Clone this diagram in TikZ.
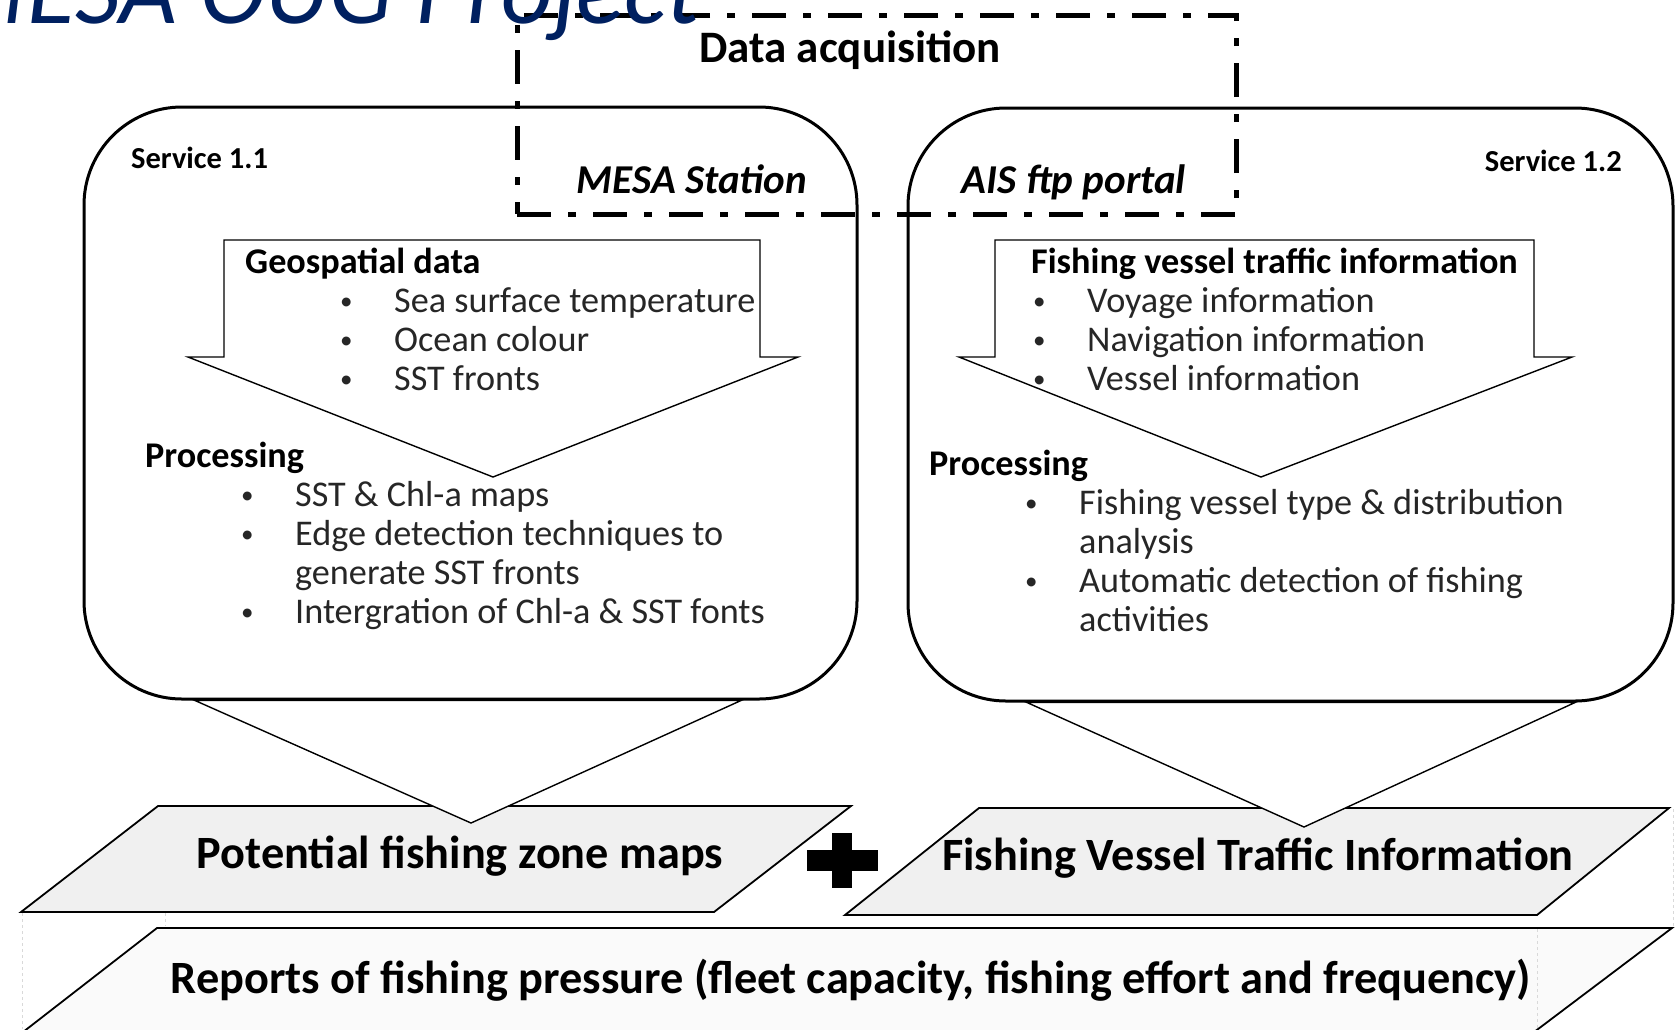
\documentclass[tikz,border=0pt]{standalone}
\usepackage{fontspec}
\setmainfont{Carlito}
\usepackage{tikz}
\usetikzlibrary{calc,positioning,backgrounds}
\definecolor{MesaBlue}{HTML}{002060}
\definecolor{ProductGray}{HTML}{F0F0F0}
\definecolor{ReportGray}{HTML}{FAFAFA}
\newlength\bulletwd
\setlength\bulletwd{54pt}
\newcommand\bitem[2]{\hspace*{#1}\makebox[\bulletwd][l]{\raisebox{3pt}{\fontsize{25}{25}\selectfont\textbullet}}#2}
\newcommand\bcont[2]{\hspace*{\dimexpr#1+\bulletwd\relax}#2}

\begin{document}
\begin{tikzpicture}[
        x=1pt, y=-1pt,
        service/.style={draw, line width=3pt, rounded corners=98pt, inner sep=0pt},
        blockarrow/.style={draw, line width=1.4pt, fill=white, line join=miter},
        funnel/.style={draw, line width=1.4pt, fill=white},
        product/.style={draw, line width=1.8pt, fill=ProductGray},
        acqbox/.style={draw, line width=5pt, dash pattern=on 34pt off 17pt on 8pt off 17pt, inner sep=0pt},
        hiddenedge/.style={gray!30, dashed, line width=0.8pt},
        bodytext/.style={font=\fontsize{36.2}{39}\selectfont, align=left, anchor=base west, inner sep=0pt, text=black!85},
        servicetag/.style={font=\bfseries\fontsize{30.5}{33}\selectfont, inner sep=0pt},
        sourcetext/.style={font=\bfseries\itshape\fontsize{41}{44}\selectfont, anchor=base, inner sep=0pt},
        producttext/.style={font=\bfseries\fontsize{46.3}{50}\selectfont, anchor=base, inner sep=0pt}
    ]
        \useasboundingbox (0,0) rectangle (1675,1029);
        \clip (0,0) rectangle (1675,1029);

        % Services
        \node[service, minimum width=773pt, minimum height=592pt] (box1) at (470.5,403) {};
        \node[service, minimum width=765pt, minimum height=593pt] (box2) at (1290.5,404.5) {};
        \node[servicetag, anchor=base west] (svc1) at (131,168) {Service 1.1};
        \node[servicetag, anchor=base east] (svc2) at (1622,171) {Service 1.2};

        % Products and funnels
        \begin{scope}[on background layer]
            \draw[product] (158,806) -- (851,806) -- (714,912) -- (21,912) -- cycle;
            \draw[product] (979,808) -- (1669,808) -- (1537,915) -- (845,915) -- cycle;
            \draw[product, fill=ReportGray] (157,928) -- (1672,928) -- (1497,1060) -- (-13,1060) -- cycle;
            \coordinate (tip1) at (471,823);
            \coordinate (tip2) at (1304,827);
            \draw[funnel] ($(box1.south)+(-275.5,0)$) -- ($(box1.south)+(270.5,0)$) -- (tip1) -- cycle;
            \draw[funnel] ($(box2.south)+(-263.5,0)$) -- ($(box2.south)+(284.5,0)$) -- (tip2) -- cycle;
        \end{scope}
        \draw[hiddenedge] (22,913) -- (22,1029);
        \draw[hiddenedge] (165,913) -- (165,926);
        \draw[hiddenedge] (1537,929) -- (1537,1029);
        \draw[hiddenedge] (1673,809) -- (1673,927);

        % Input arrows
        \draw[blockarrow] (224,240) -- (760,240) -- (760,357) -- (798,357) -- (493,477) -- (188,357) -- (224,357) -- cycle;
        \draw[blockarrow] (995,240) -- (1534,240) -- (1534,357) -- (1572,357) -- (1261,477) -- (959,357) -- (995,357) -- cycle;

        % Texts (anchored at the last line)
        \node[bodytext] (geo) at (245,390) {\textcolor{black}{\bfseries Geospatial data}\\
            \bitem{95pt}{Sea surface temperature}\\
            \bitem{95pt}{Ocean colour}\\
            \bitem{95pt}{SST fronts}};
        \node[bodytext] (proc1) at (145,623) {\textcolor{black}{\bfseries Processing}\\
            \bitem{96pt}{SST \& Chl-a maps}\\
            \bitem{96pt}{Edge detection techniques to}\\
            \bcont{96pt}{generate SST fronts}\\
            \bitem{96pt}{Intergration of Chl-a \& SST fonts}};
        \node[bodytext] (vessel) at (1031,390) {\textcolor{black}{\bfseries Fishing vessel traffic information}\\
            \bitem{2pt}{Voyage information}\\
            \bitem{2pt}{Navigation information}\\
            \bitem{2pt}{Vessel information}};
        \node[bodytext] (proc2) at (929,631) {\textcolor{black}{\bfseries Processing}\\
            \bitem{96pt}{Fishing vessel type \& distribution}\\
            \bcont{96pt}{analysis}\\
            \bitem{96pt}{Automatic detection of fishing}\\
            \bcont{96pt}{activities}};

        \node[producttext] (pfz) at (460,868) {Potential fishing zone maps};
        \node[producttext] (fvt) at (1258,870) {Fishing Vessel Traffic Information};
        \node[producttext] (report) at (851,993) {Reports of fishing pressure (fleet capacity, fishing effort and frequency)};
        \fill (807,850) rectangle (878,871);
        \fill (832,833) rectangle (852,888);

        % Data acquisition
        \node[acqbox, minimum width=719pt, minimum height=199pt] (acq) at (876.5,114.5) {};
        \node[font=\bfseries\fontsize{45}{48}\selectfont, anchor=base, inner sep=0pt] (acqlabel) at (850,62) {Data acquisition};
        \node[sourcetext] (mesa) at (692,193) {MESA Station};
        \node[sourcetext] (ais) at (1074,193) {AIS ftp portal};

        % Title
        \node[font=\itshape\fontsize{100}{104}\selectfont, text=MesaBlue, anchor=base east, inner sep=0pt] (title) at (700,23) {MESA OUG Project};
    \end{tikzpicture}
\end{document}
